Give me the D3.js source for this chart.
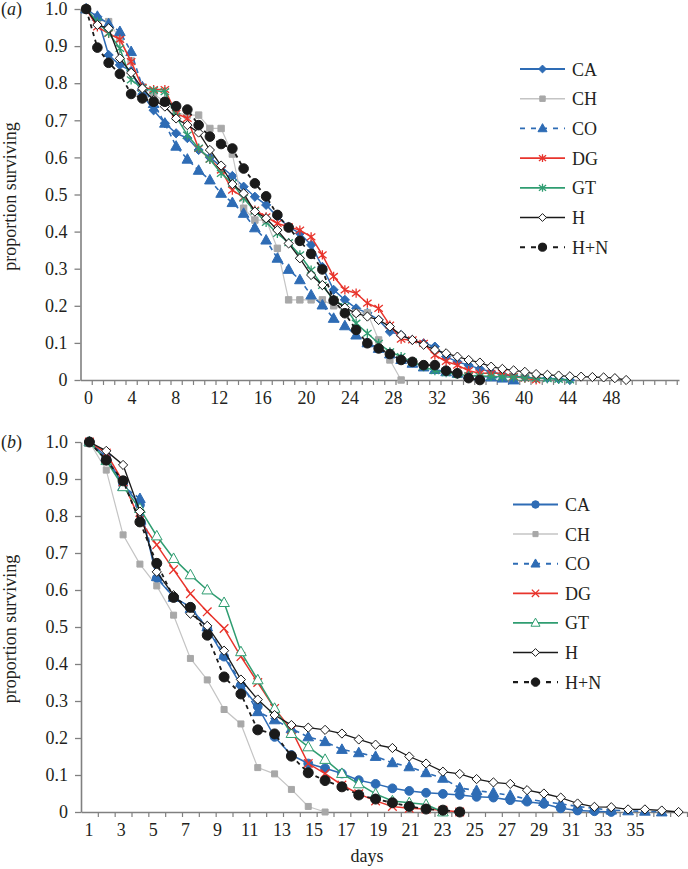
<!DOCTYPE html>
<html><head><meta charset="utf-8">
<script src="https://cdnjs.cloudflare.com/ajax/libs/d3/7.8.5/d3.min.js"></script>
<style>
body{margin:0;background:#fff;}
svg{display:block;font-family:"Liberation Serif","Times New Roman","DejaVu Serif",serif;}
</style>
</head><body>
<svg id="chart" width="688" height="869"></svg>
<script>
// ---------- DATA ----------
const seriesNames = ["CA","CH","CO","DG","GT","H","H+N"];
const yTickValues = [0,0.1,0.2,0.3,0.4,0.5,0.6,0.7,0.8,0.9,1.0];
const xLabelsA = [0,4,8,12,16,20,24,28,32,36,40,44,48];
const xLabelsB = [1,3,5,7,9,11,13,15,17,19,21,23,25,27,29,31,33,35];
const firstDayA = 0;
const firstDayB = 1;

// panel (a): proportion surviving, one value per day starting at day 0
const caA = [1,0.979,0.876,0.849,0.833,0.77,0.727,0.692,0.665,0.652,0.62,0.6,0.575,0.55,0.521,0.494,0.472,0.44,0.413,0.395,0.364,0.305,0.243,0.216,0.193,0.181,0.162,0.13,0.121,0.108,0.099,0.09,0.063,0.049,0.04,0.03,0.022,0.015,0.01,0.008,0.005,0.005,0.003,0];
const chA = [1,0.97,0.966,0.92,0.86,0.79,0.77,0.75,0.72,0.714,0.714,0.678,0.678,0.609,0.463,0.431,0.431,0.355,0.216,0.216,0.216,0.216,0.2,0.19,0.181,0.181,0.108,0.054,0];
const coA = [1,0.98,0.96,0.939,0.885,0.79,0.745,0.692,0.63,0.595,0.565,0.539,0.503,0.478,0.449,0.41,0.377,0.328,0.298,0.27,0.229,0.202,0.166,0.146,0.121,0.1,0.085,0.07,0.055,0.045,0.035,0.028,0.022,0.018,0.014,0.01,0.008,0.005,0];
const dgA = [1,0.952,0.934,0.918,0.858,0.789,0.783,0.783,0.719,0.705,0.624,0.595,0.566,0.512,0.492,0.458,0.44,0.422,0.413,0.404,0.386,0.337,0.279,0.243,0.234,0.207,0.193,0.148,0.11,0.108,0.099,0.067,0.05,0.04,0.025,0.018,0.018,0.018,0.01,0.005,0];
const gtA = [1,0.965,0.935,0.894,0.809,0.786,0.78,0.777,0.71,0.66,0.625,0.595,0.557,0.53,0.49,0.455,0.425,0.395,0.37,0.337,0.296,0.255,0.216,0.198,0.153,0.126,0.099,0.076,0.063,0.049,0.036,0.025,0.02,0.015,0.012,0.01,0.01,0.008,0.008,0.006,0.005,0.004,0.002,0];
const hA  = [1,0.957,0.948,0.867,0.828,0.786,0.755,0.737,0.705,0.687,0.667,0.62,0.578,0.528,0.503,0.454,0.436,0.404,0.368,0.328,0.283,0.256,0.216,0.195,0.18,0.171,0.162,0.144,0.121,0.108,0.095,0.081,0.072,0.063,0.054,0.047,0.036,0.03,0.026,0.022,0.016,0.014,0.012,0.01,0.009,0.008,0.007,0.005,0];
const hnA = [1,0.896,0.855,0.825,0.771,0.759,0.75,0.75,0.738,0.729,0.687,0.656,0.636,0.624,0.57,0.53,0.495,0.445,0.411,0.375,0.34,0.298,0.214,0.18,0.135,0.099,0.085,0.07,0.054,0.049,0.04,0.04,0.025,0.018,0.005,0];

// panel (b): one value per day starting at day 1
const caB = [1,0.96,0.885,0.83,0.632,0.581,0.554,0.496,0.42,0.343,0.285,0.203,0.154,0.131,0.118,0.104,0.086,0.076,0.064,0.057,0.052,0.049,0.046,0.041,0.039,0.032,0.028,0.022,0.01,0.004,0.002,0];
const chB = [1,0.924,0.749,0.67,0.611,0.532,0.415,0.357,0.277,0.238,0.12,0.103,0.061,0.015,0];
const coB = [1,0.96,0.88,0.847,0.636,0.58,0.55,0.5,0.424,0.35,0.271,0.249,0.225,0.203,0.19,0.169,0.16,0.15,0.133,0.122,0.106,0.091,0.065,0.058,0.052,0.045,0.035,0.028,0.022,0.015,0.01,0.005,0.003,0.002,0];
const dgB = [1,0.97,0.892,0.789,0.722,0.655,0.59,0.541,0.496,0.42,0.35,0.28,0.222,0.131,0.104,0.073,0.049,0.03,0.015,0.01,0.008,0.005,0];
const gtB = [1,0.95,0.879,0.82,0.746,0.685,0.641,0.6,0.566,0.433,0.357,0.28,0.212,0.176,0.142,0.104,0.076,0.049,0.03,0.025,0.02,0];
const hB  = [1,0.976,0.938,0.812,0.649,0.586,0.536,0.503,0.436,0.358,0.304,0.262,0.235,0.228,0.222,0.212,0.196,0.182,0.173,0.15,0.131,0.109,0.103,0.089,0.08,0.076,0.059,0.05,0.039,0.023,0.014,0.013,0.007,0.007,0.004,0];
const hnB = [1,0.951,0.895,0.784,0.672,0.58,0.553,0.478,0.365,0.319,0.222,0.211,0.151,0.106,0.085,0.068,0.046,0.035,0.025,0.015,0.008,0.005,0];

// ---------- STYLES ----------
const BLUE = "#2e6cb5", GRAY = "#a8a8a8", RED = "#e8342c", GREEN = "#2f9d71", BLACK = "#1a1a1a";
const styleA = {
  "CA":  {color:BLUE,  dash:null,  marker:"diamond",  r:4.6, fill:BLUE,  width:1.5},
  "CH":  {color:"#c4c4c4", dash:null, marker:"square", r:3.2, fill:GRAY, stroke:GRAY, width:1.2},
  "CO":  {color:BLUE,  dash:"5,4", marker:"triangle", r:5.6, fill:BLUE,  width:1.6},
  "DG":  {color:RED,   dash:null,  marker:"asterisk", r:4.2, fill:"none", width:1.5},
  "GT":  {color:GREEN, dash:null,  marker:"asterisk", r:4.2, fill:"none", width:1.5},
  "H":   {color:BLACK, dash:null,  marker:"diamond",  r:4.6, fill:"#fff", stroke:BLACK, width:1.3},
  "H+N": {color:BLACK, dash:"4,4", marker:"circle",   r:4.8, fill:BLACK, width:1.8}
};
const styleB = {
  "CA":  {color:BLUE,  dash:null,  marker:"circle",   r:4.4, fill:BLUE,  width:1.5},
  "CH":  {color:"#c4c4c4", dash:null, marker:"square", r:3.0, fill:GRAY, stroke:GRAY, width:1.2},
  "CO":  {color:BLUE,  dash:"5,4", marker:"triangle", r:5.6, fill:BLUE,  width:1.6},
  "DG":  {color:RED,   dash:null,  marker:"cross",    r:4.3, fill:"none", width:1.5},
  "GT":  {color:GREEN, dash:null,  marker:"triangle", r:5.6, fill:"#fff", stroke:GREEN, width:1.5},
  "H":   {color:BLACK, dash:null,  marker:"diamond",  r:4.6, fill:"#fff", stroke:BLACK, width:1.3},
  "H+N": {color:BLACK, dash:"4,4", marker:"circle",   r:5.0, fill:BLACK, width:1.8}
};

function markerPath(type, r){
  switch(type){
    case "diamond":  return `M0,${-r}L${r},0L0,${r}L${-r},0Z`;
    case "square":   return `M${-r},${-r}H${r}V${r}H${-r}Z`;
    case "triangle": return `M0,${-r}L${r*0.95},${r*0.7}L${-r*0.95},${r*0.7}Z`;
    case "circle":   return d3.symbol(d3.symbolCircle, Math.PI*r*r)();
    case "asterisk": return `M${-r},${-r*0.8}L${r},${r*0.8}M${-r},${r*0.8}L${r},${-r*0.8}M0,${-r*1.1}L0,${r*1.1}`;
    case "cross":    return `M${-r},${-r}L${r},${r}M${-r},${r}L${r},${-r}`;
  }
}

const svg = d3.select("#chart");
const AXIS = "#808080", TXT = "#231f20";

function drawPanel(cfg){
  const g = svg.append("g");
  const x = d3.scaleLinear().domain(cfg.xDomain).range(cfg.xRange);
  const xl = d3.scaleLinear().domain(cfg.labDomain).range(cfg.labRange);
  const y = d3.scaleLinear().domain([0,1]).range([cfg.y0, cfg.y1]);

  // y axis
  const ya = g.append("g").attr("transform",`translate(${cfg.xRange[0]},0)`)
    .call(d3.axisLeft(y).tickValues(yTickValues).tickSize(6).tickSizeOuter(0).tickPadding(7)
      .tickFormat(d => d === 0 ? "0" : d3.format(".1f")(d)));
  ya.select(".domain").attr("stroke",AXIS).attr("stroke-width",1.6);
  ya.selectAll(".tick line").attr("stroke",AXIS).attr("stroke-width",1.3);
  ya.selectAll("text").attr("fill",TXT).style("font-size","18px").style("font-family","Liberation Serif, serif");

  // x axis ticks + line
  const xa = g.append("g").attr("transform",`translate(0,${cfg.y0})`)
    .call(d3.axisBottom(x).tickValues(cfg.tickVals).tickSize(5).tickSizeOuter(0).tickFormat(""));
  xa.select(".domain").attr("stroke",AXIS).attr("stroke-width",1.6);
  xa.selectAll(".tick line").attr("stroke",AXIS).attr("stroke-width",1.2);
  // x labels
  const xla = g.append("g").attr("transform",`translate(0,${cfg.y0})`)
    .call(d3.axisBottom(xl).tickValues(cfg.xLabels).tickSize(0).tickPadding(11).tickFormat(d3.format("d")));
  xla.select(".domain").remove();
  xla.selectAll("text").attr("fill",TXT).style("font-size","18px").style("font-family","Liberation Serif, serif");

  // y title
  g.append("text").attr("transform","rotate(-90)")
    .attr("x", -(cfg.y0+cfg.y1)/2 - 2).attr("y", 16)
    .attr("text-anchor","middle").attr("fill",TXT).style("font-size","18px")
    .text("proportion surviving");

  // panel letter
  const pl = g.append("text").attr("x",1).attr("y",cfg.y1+6).attr("fill",TXT).style("font-size","18px");
  pl.append("tspan").text("(");
  pl.append("tspan").style("font-style","italic").text(cfg.letter);
  pl.append("tspan").text(")");

  const line = d3.line().x(d => x(d.day)).y(d => y(d.p));
  cfg.series.forEach((vals, i) => {
    const name = seriesNames[i];
    const st = cfg.style[name];
    const pts = vals.map((p, k) => ({day: cfg.firstDay + k, p}));
    g.append("path").datum(pts).attr("d", line).attr("fill","none")
      .attr("stroke", st.color).attr("stroke-width", st.width)
      .attr("stroke-dasharray", st.dash);
    const stroke = st.marker === "asterisk" || st.marker === "cross" ? st.color : (st.stroke || st.fill);
    g.append("g").selectAll("path").data(pts).join("path")
      .attr("transform", d => `translate(${x(d.day)},${y(d.p)})`)
      .attr("d", markerPath(st.marker, st.r))
      .attr("fill", st.fill).attr("stroke", stroke)
      .attr("stroke-width", (st.marker === "asterisk" || st.marker === "cross") ? 1.3 : 1);
  });

  // legend
  const lg = g.append("g");
  seriesNames.forEach((name, i) => {
    const st = cfg.style[name];
    const yy = cfg.legY + i*cfg.legStep;
    lg.append("line").attr("x1",cfg.legX1).attr("x2",cfg.legX2).attr("y1",yy).attr("y2",yy)
      .attr("stroke",st.color).attr("stroke-width",st.width+0.3)
      .attr("stroke-dasharray", st.dash ? "5,6" : null);
    const stroke = st.marker === "asterisk" || st.marker === "cross" ? st.color : (st.stroke || st.fill);
    lg.append("path").attr("transform",`translate(${(cfg.legX1+cfg.legX2)/2},${yy})`)
      .attr("d", markerPath(st.marker, st.r*0.85))
      .attr("fill", st.fill).attr("stroke", stroke)
      .attr("stroke-width", (st.marker === "asterisk" || st.marker === "cross") ? 1.3 : 1);
    lg.append("text").attr("x",cfg.legX2+7).attr("y",yy+6.5).attr("fill",TXT)
      .style("font-size","18px").text(name);
  });
}

drawPanel({
  letter:"a", y0:380, y1:9,
  xDomain:[-0.5,52.7], xRange:[80.5,679],
  labDomain:[0,48], labRange:[88,611],
  tickVals:d3.range(0.5,52.6,1), xLabels:xLabelsA, firstDay:firstDayA,
  series:[caA,chA,coA,dgA,gtA,hA,hnA], style:styleA,
  legX1:520, legX2:565, legY:69, legStep:29.7
});
drawPanel({
  letter:"b", y0:812, y1:442,
  xDomain:[0.5,36.5], xRange:[81,687],
  labDomain:[1,35], labRange:[88.5,635],
  tickVals:d3.range(1.5,36.6,1), xLabels:xLabelsB, firstDay:firstDayB,
  series:[caB,chB,coB,dgB,gtB,hB,hnB], style:styleB,
  legX1:513, legX2:558, legY:504.5, legStep:29.6
});

svg.append("text").attr("x",367).attr("y",862).attr("text-anchor","middle")
  .attr("fill",TXT).style("font-size","18px").text("days");
</script>
</body></html>
